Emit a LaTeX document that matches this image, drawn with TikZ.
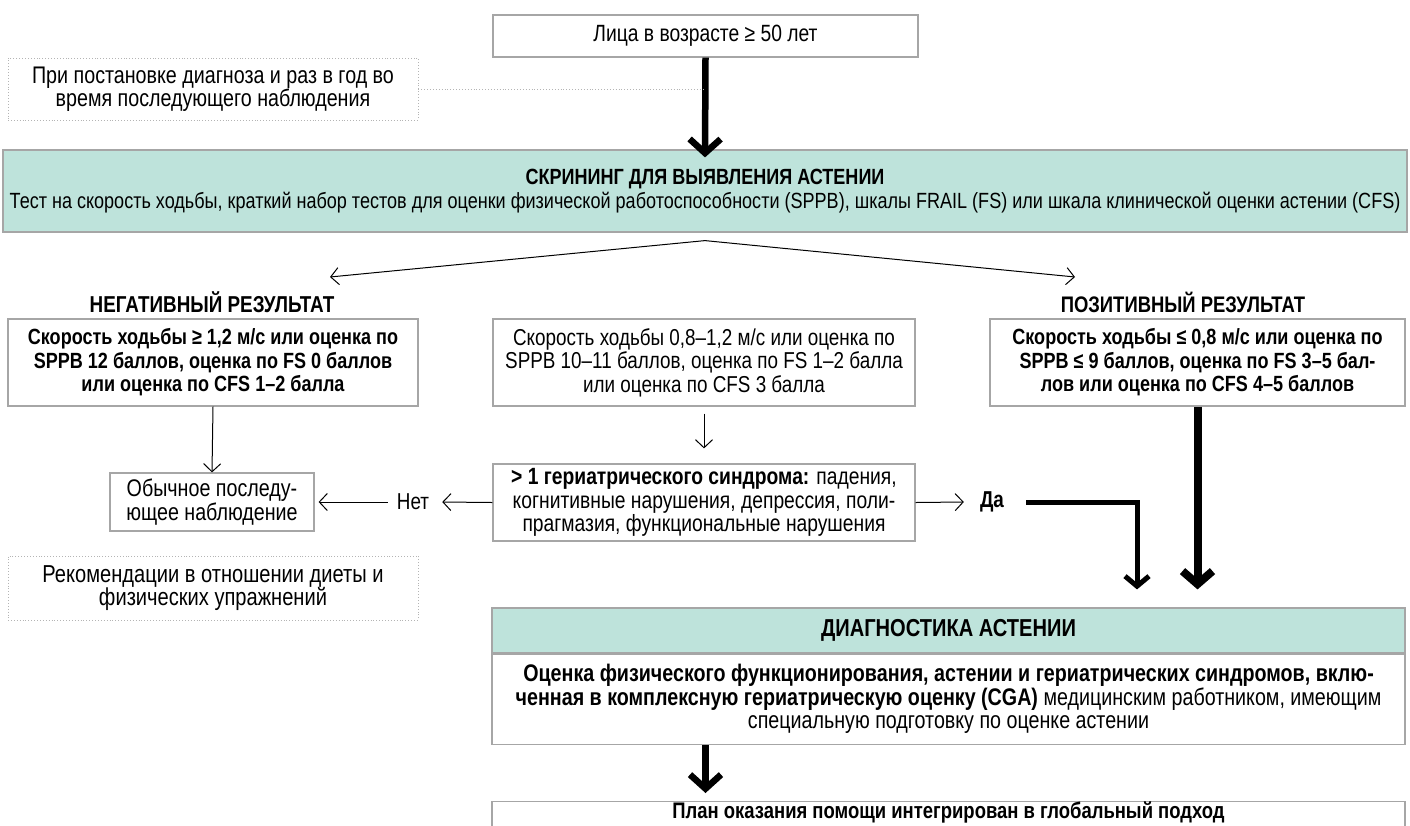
\documentclass[tikz,border=0pt]{standalone}
\usepackage{fontspec}
\setmainfont{Liberation Sans}[FakeStretch=0.82]
\usetikzlibrary{arrows.meta}
\definecolor{tealfill}{HTML}{BEE3DB}
\definecolor{edgegray}{HTML}{A6A6A6}
\definecolor{dotgray}{HTML}{B4B4B4}

\begin{document}
\begin{tikzpicture}[x=1pt,y=-1pt,
  every node/.style={font=\fontsize{23.5}{23.5}\selectfont, align=center, inner sep=0pt},
  sized/.style={font=\fontsize{#1}{23.5}\selectfont},
  boldsized/.style={font=\fontsize{#1}{23.5}\selectfont\bfseries},
  box/.style={draw=edgegray, line width=1.2pt, fill=white},
  dotbox/.style={draw=dotgray, dotted, line width=0.9pt},
  tealbox/.style={draw=edgegray, line width=1.2pt, fill=tealfill},
  thinarrow/.style={line width=1pt, -{Straight Barb[length=8pt,width=17pt]}},
  heavyarrow/.style={line width=6.5pt, -{Straight Barb[length=14pt,width=31pt]}},
]
\useasboundingbox (0,0) rectangle (1410,825);

% top of the pathway
\node[box, minimum width=425, minimum height=42, sized=23.5] (age) at (705.5,36) {Лица в возрасте ≥ 50 лет};
\node[dotbox, minimum width=410, minimum height=62, sized=24] (when) at (213,89)
  {При постановке диагноза и раз в год во\\время последующего наблюдения};
\node[tealbox, minimum width=1404, minimum height=82, sized=22] (screen) at (705,191)
  {\textbf{СКРИНИНГ ДЛЯ ВЫЯВЛЕНИЯ АСТЕНИИ}\\Тест на скорость ходьбы, краткий набор тестов для оценки физической работоспособности (SPPB), шкалы FRAIL (FS) или шкала клинической оценки астении (CFS)};

\draw[heavyarrow] (age.south) -- ([yshift=-8pt]screen.north);
\draw[dotgray, dotted, line width=0.9pt] (when.east) -- (when.east -| age.south);

% screening outcomes
\node[boldsized=23] (neg) at (212,302) {НЕГАТИВНЫЙ РЕЗУЛЬТАТ};
\node[boldsized=22.5] (pos) at (1183,302) {ПОЗИТИВНЫЙ РЕЗУЛЬТАТ};
\coordinate (split) at ([yshift=-8pt]screen.south);
\coordinate (negtip) at (330,277);
\coordinate (postip) at (1075,277);
\draw[thinarrow] (split) -- (negtip);
\draw[thinarrow] (split) -- (postip);

\node[box, boldsized=22, minimum width=410, minimum height=87] (low) at (213,362.5)
  {Скорость ходьбы ≥ 1,2 м/с или оценка по\\SPPB 12 баллов, оценка по FS 0 баллов\\или оценка по CFS 1–2 балла};
\node[box, sized=23, minimum width=422, minimum height=87] (mid) at (704,362.5)
  {Скорость ходьбы 0,8–1,2 м/с или оценка по\\SPPB 10–11 баллов, оценка по FS 1–2 балла\\или оценка по CFS 3 балла};
\node[box, boldsized=22, minimum width=415, minimum height=87] (high) at (1197.5,362.5)
  {Скорость ходьбы ≤ 0,8 м/с или оценка по\\SPPB ≤ 9 баллов, оценка по FS 3–5 бал-\\лов или оценка по CFS 4–5 баллов};

% geriatric syndromes check
\node[box, sized=23.5, minimum width=422, minimum height=77] (syn) at (704,502.5)
  {\textbf{> 1 гериатрического синдрома:} падения,\\когнитивные нарушения, депрессия, поли-\\прагмазия, функциональные нарушения};
\draw[thinarrow] ([yshift=-7pt]mid.south) -- ([yshift=15pt]syn.north);

\node[box, sized=24, minimum width=204, minimum height=58] (usual) at (212,502)
  {Обычное последу-\\ющее наблюдение};
\draw[thinarrow] (low.south) -- (usual.north);
\node[dotbox, sized=24.5, minimum width=410, minimum height=64] (diet) at (213,588)
  {Рекомендации в отношении диеты и\\физических упражнений};

\node[sized=23] (no) at (413,502) {Нет};
\node[boldsized=23] (yes) at (992,502) {Да};
\draw[thinarrow] (syn.west) -- ([xshift=13pt]no.east);
\draw[thinarrow] ([xshift=-9pt]no.west) -- ([xshift=4pt]usual.east);
\draw[thinarrow] (syn.east) -- ([xshift=-16pt]yes.west);

% frailty diagnosis
\node[tealbox, boldsized=24.5, minimum width=913, minimum height=45] (diaghead) at (948.5,630.5)
  {ДИАГНОСТИКА АСТЕНИИ};
\node[box, sized=24, minimum width=913, minimum height=90, anchor=north] (diag) at (diaghead.south)
  {\textbf{Оценка физического функционирования, астении и гериатрических синдромов, вклю-}\\
   \textbf{ченная в комплексную гериатрическую оценку (CGA)} медицинским работником, имеющим\\
   специальную подготовку по оценке астении};

\coordinate (yesturn) at (1137,502);
\draw[line width=5pt, -{Straight Barb[length=10pt,width=24pt]}]
  ([xshift=22pt]yes.east) -- (yesturn) -- ([yshift=18pt]yesturn |- diaghead.north);
\draw[line width=8pt, -{Straight Barb[length=13pt,width=30pt]}]
  (high.south) -- ([yshift=18pt]high.south |- diaghead.north);

% care plan
\node[box, sized=22.5, minimum width=913, minimum height=50, anchor=north] (plan) at (948.5,801)
  {\textbf{План оказания помощи интегрирован в глобальный подход}\\[20pt]\strut};
\draw[heavyarrow] (diag.south -| age.south) -- ([yshift=8pt]plan.north -| age.south);
\end{tikzpicture}
\end{document}
